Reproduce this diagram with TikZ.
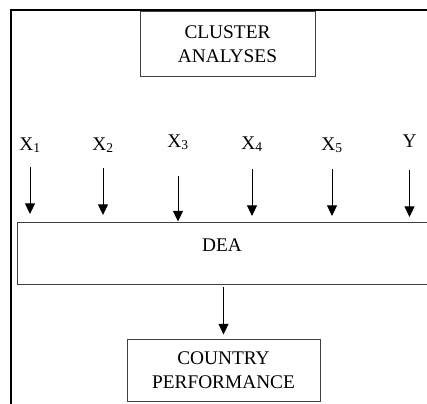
\documentclass[tikz,border=0pt]{standalone}
\usepackage{fontspec}
\setmainfont{Liberation Serif}
\usetikzlibrary{arrows.meta}

\begin{document}
\begin{tikzpicture}[x=0.75pt, y=-0.75pt,
    every node/.style={font=\fontsize{14.5}{18}\selectfont},
    box/.style={draw=black!75, line width=0.75pt, align=center, inner sep=0pt},
    arr/.style={-{Triangle[width=7.5pt, length=8pt]}, line width=0.75pt}]
    \useasboundingbox (0,0) rectangle (427,403);
    \clip (0,0) rectangle (427,403);

    % Frame
    \draw[line width=1.5pt] (440,10) -- (11,10) -- (11,420);

    % Boxes
    \node[box, minimum width=131.25pt, minimum height=48pt] (cluster) at (227.5,44) {CLUSTER\\ANALYSES};
    \node[box, minimum width=317.25pt, minimum height=46.5pt] (dea) at (228.5,253) {};
    \node (deatext) at (222,245) {DEA};
    \node[box, minimum width=144.75pt, minimum height=46.5pt] (country) at (223.5,370) {COUNTRY\\PERFORMANCE};

    % Variables
    \node[anchor=base] (x1) at (30,150) {X\textsubscript{1}};
    \node[anchor=base] (x2) at (103,150) {X\textsubscript{2}};
    \node[anchor=base] (x3) at (178,147) {X\textsubscript{3}};
    \node[anchor=base] (x4) at (252,149) {X\textsubscript{4}};
    \node[anchor=base] (x5) at (332,150) {X\textsubscript{5}};
    \node[anchor=base] (y) at (409.5,147) {Y};

    % Arrows into DEA
    \draw[arr] (x1.base) ++(0,17) -- ++(0,47);
    \draw[arr] (x2.base) ++(0,18) -- ++(0,47);
    \draw[arr] (x3.base) ++(0,29) -- (x3.base |- dea.north);
    \draw[arr] (x4.base) ++(0,20) -- ++(0,47);
    \draw[arr] (x5.base) ++(0,19) -- ++(0,47);
    \draw[arr] (y.base) ++(0,23) -- ++(0,47);

    % Output
    \draw[arr, shorten <=2pt, shorten >=3pt] (dea.south -| country.north) -- (country.north);
\end{tikzpicture}
\end{document}
